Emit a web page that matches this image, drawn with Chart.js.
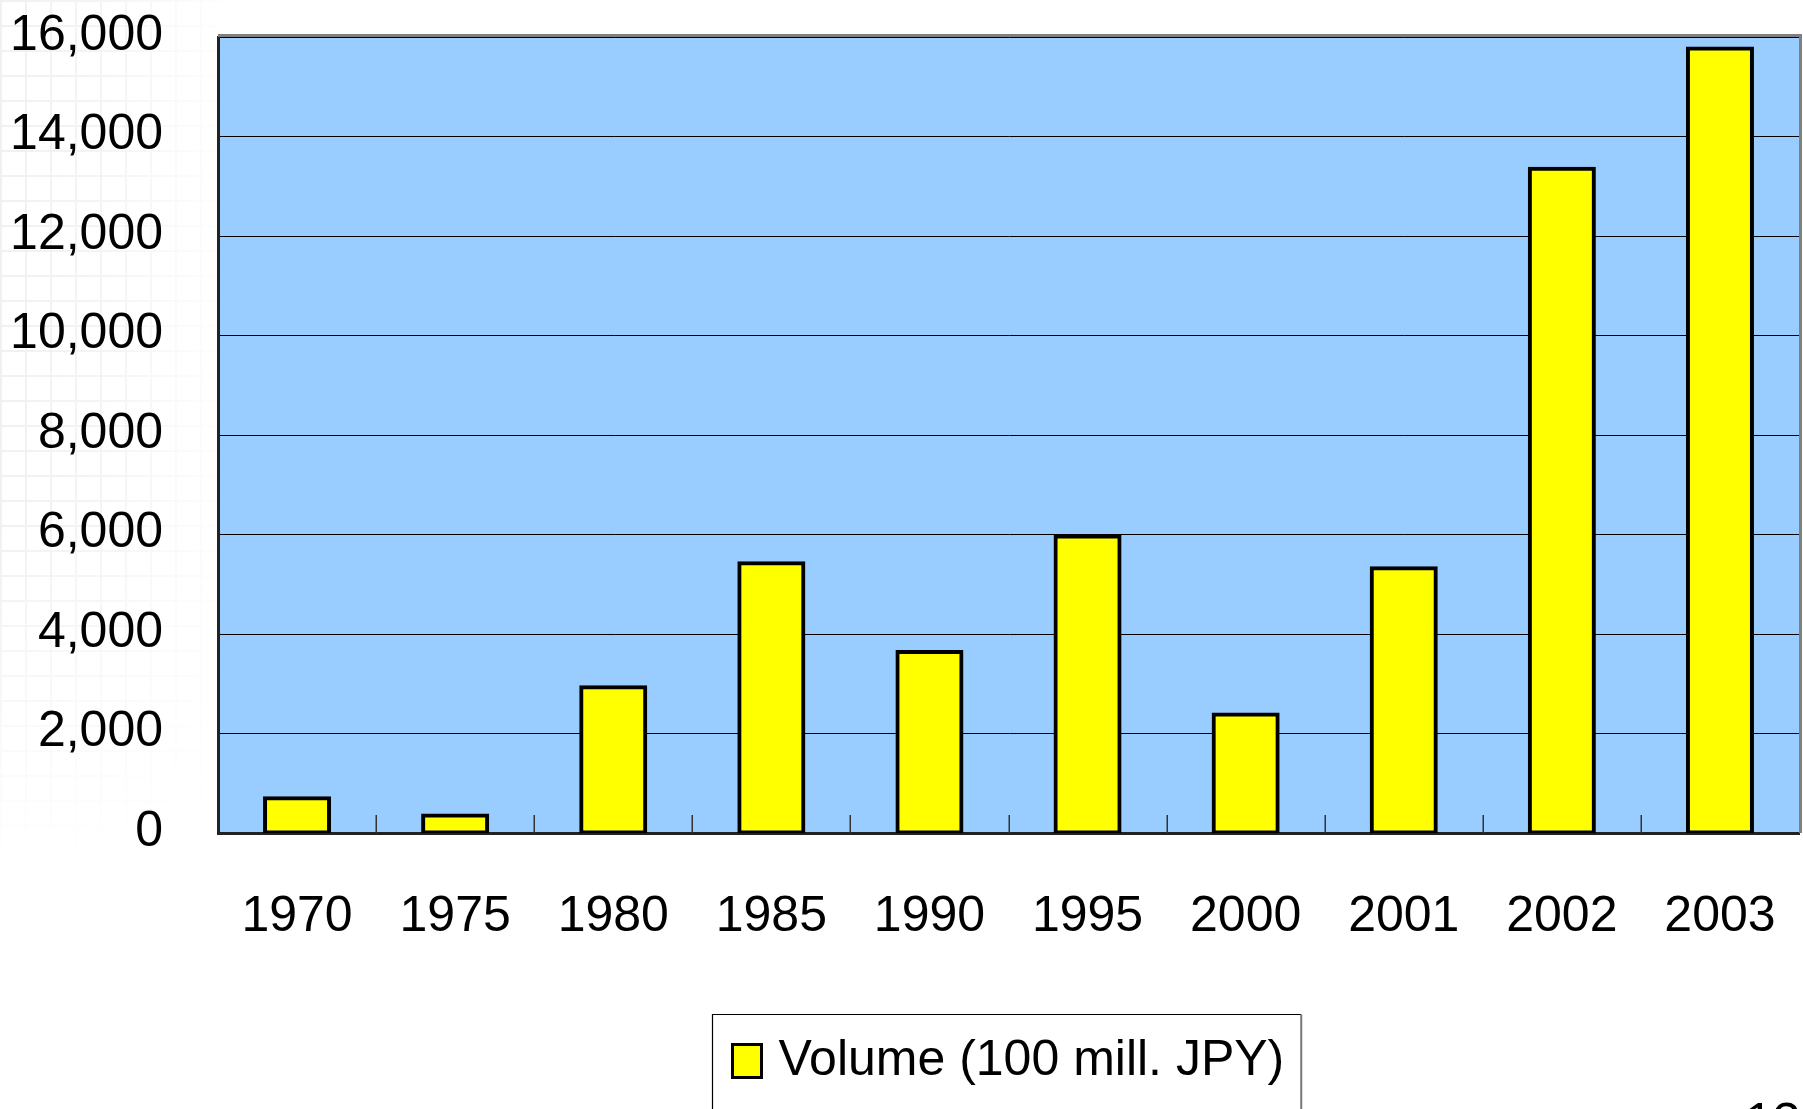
<!DOCTYPE html>
<html>
<head>
<meta charset="utf-8">
<title>Volume (100 mill. JPY)</title>
<script src="https://cdn.jsdelivr.net/npm/chart.js@4.4.1/dist/chart.umd.min.js"></script>
<style>
  html, body { margin: 0; padding: 0; background: #fff; overflow: hidden; }
  #wrap { position: relative; width: 1803px; height: 1109px; overflow: hidden; }
  /* faint graph-paper texture in the upper-left margin */
  #paper {
    position: absolute; left: 0; top: 0; width: 250px; height: 880px;
    background-image:
      linear-gradient(#d6d6d6 2px, transparent 2px),
      linear-gradient(90deg, #d6d6d6 2px, transparent 2px);
    background-size: 25px 25px;
    opacity: 0.35;
    -webkit-mask-image: linear-gradient(to right, #000 0, rgba(0,0,0,0.7) 110px, rgba(0,0,0,0) 240px);
    mask-image: linear-gradient(to right, #000 0, rgba(0,0,0,0.7) 110px, rgba(0,0,0,0) 240px);
  }
  #paperFade {
    position: absolute; left: 0; top: 0; width: 250px; height: 880px;
    background: linear-gradient(to bottom, rgba(255,255,255,0) 0, rgba(255,255,255,0) 520px, #fff 870px);
  }
  canvas { position: absolute; left: 0; top: 0; }
  #pageNo {
    position: absolute; left: 1745px; top: 1096px;
    font: 50px "Liberation Sans", Arial, sans-serif; line-height: 1; color: #000;
  }
</style>
</head>
<body>
<div id="wrap">
  <div id="paper"></div>
  <div id="paperFade"></div>
  <canvas id="chart" width="1803" height="1109"></canvas>
  <div id="pageNo">13</div>
</div>
<script>
// Trading volume by year, in units of 100 million yen
const years = ['1970', '1975', '1980', '1985', '1990', '1995', '2000', '2001', '2002', '2003'];
const volume = [700, 350, 2930, 5420, 3640, 5960, 2380, 5320, 13350, 15770];
const yTicks = [0, 2000, 4000, 6000, 8000, 10000, 12000, 14000, 16000];
const seriesLabel = 'Volume (100 mill. JPY)';

const FONT = '"Liberation Sans", Arial, sans-serif';
Chart.defaults.font.family = FONT;
Chart.defaults.color = '#000';

// Keep the plot area fixed: tick labels may overhang it
function clearScalePadding(scale) {
  scale.paddingTop = 0;
  scale.paddingBottom = 0;
  scale.paddingLeft = 0;
  scale.paddingRight = 0;
}

// Blue plot background plus the grey frame on the top and right edges
const plotFrame = {
  id: 'plotFrame',
  beforeDraw(chart) {
    const { ctx, chartArea: a } = chart;
    ctx.save();
    ctx.fillStyle = '#99CCFF';
    ctx.fillRect(a.left, a.top, a.right - a.left, a.bottom - a.top);
    ctx.restore();
  },
  beforeDatasetsDraw(chart) {
    const { ctx, chartArea: a } = chart;
    ctx.save();
    ctx.strokeStyle = '#808080';
    ctx.lineWidth = 3;
    ctx.beginPath();
    ctx.moveTo(a.left, a.top - 1.5);
    ctx.lineTo(a.right + 1.5, a.top - 1.5);
    ctx.lineTo(a.right + 1.5, a.bottom);
    ctx.stroke();
    ctx.restore();
  }
};

// Short upward tick marks on the category boundaries of the x axis
const categoryTicks = {
  id: 'categoryTicks',
  afterDatasetsDraw(chart) {
    const { ctx, chartArea: a } = chart;
    const xs = chart.scales.x;
    ctx.save();
    ctx.strokeStyle = '#333';
    ctx.lineWidth = 1.5;
    for (let i = 1; i < years.length; i++) {
      const px = Math.round(xs.getPixelForValue(i - 0.5)) + 0.25;
      ctx.beginPath();
      ctx.moveTo(px, a.bottom);
      ctx.lineTo(px, a.bottom - 18);
      ctx.stroke();
    }
    ctx.restore();
  }
};

// Boxed legend centred under the plot area
const boxedLegend = {
  id: 'boxedLegend',
  afterDraw(chart) {
    const { ctx, chartArea: a } = chart;
    const ds = chart.data.datasets[0];
    ctx.save();
    ctx.font = '50px ' + FONT;
    const tw = ctx.measureText(ds.label).width;
    const padL = 20, sw = 29, sh = 33, gap = 17, padR = 17;
    const w = padL + sw + gap + tw + padR;
    const cx = (a.left + a.right) / 2 - 2;
    const x0 = Math.round(cx - w / 2) + 0.5;
    const y0 = Math.round(a.bottom + 181) + 0.5;
    // frame
    ctx.strokeStyle = '#000';
    ctx.lineWidth = 1.2;
    ctx.beginPath();
    ctx.moveTo(x0, y0 + 200);
    ctx.lineTo(x0, y0);
    ctx.lineTo(x0 + w, y0);
    ctx.stroke();
    ctx.strokeStyle = '#777';
    ctx.lineWidth = 2;
    ctx.beginPath();
    ctx.moveTo(x0 + w, y0);
    ctx.lineTo(x0 + w, y0 + 200);
    ctx.stroke();
    // swatch
    const sx = x0 + padL, sy = y0 + 30;
    ctx.fillStyle = ds.backgroundColor;
    ctx.fillRect(sx, sy, sw, sh);
    ctx.strokeStyle = ds.borderColor;
    ctx.lineWidth = 3;
    ctx.strokeRect(sx, sy, sw, sh);
    // text
    ctx.fillStyle = '#000';
    ctx.textBaseline = 'middle';
    ctx.textAlign = 'left';
    ctx.fillText(ds.label, sx + sw + gap, sy + sh / 2);
    ctx.restore();
  }
};

new Chart(document.getElementById('chart'), {
  type: 'bar',
  data: {
    labels: years,
    datasets: [{
      label: seriesLabel,
      data: volume,
      backgroundColor: '#FFFF00',
      borderColor: '#000000',
      borderWidth: 4,
      borderSkipped: false,
      inflateAmount: 2,
      categoryPercentage: 1.0,
      barPercentage: 0.405
    }]
  },
  options: {
    responsive: false,
    animation: false,
    devicePixelRatio: 1,
    layout: { padding: { top: 37, right: 4, bottom: 0, left: 0 } },
    plugins: {
      legend: { display: false },
      tooltip: { enabled: false }
    },
    scales: {
      x: {
        offset: true,
        grid: { display: false },
        border: { display: true, color: '#222', width: 3 },
        ticks: { font: { size: 50 }, color: '#000', padding: 46, maxRotation: 0 },
        afterFit(scale) { scale.height = 276; clearScalePadding(scale); }
      },
      y: {
        min: 0,
        max: 16000,
        afterBuildTicks(scale) { scale.ticks = yTicks.map(v => ({ value: v })); },
        grid: { color: '#000', lineWidth: 1, drawTicks: false },
        border: { display: true, color: '#222', width: 3 },
        ticks: {
          font: { size: 50 },
          color: '#000',
          padding: 55,
          labelOffset: -1,
          callback: v => Number(v).toLocaleString('en-US')
        },
        afterFit(scale) { scale.width = 218; clearScalePadding(scale); }
      }
    }
  },
  plugins: [plotFrame, categoryTicks, boxedLegend]
});
</script>
</body>
</html>
